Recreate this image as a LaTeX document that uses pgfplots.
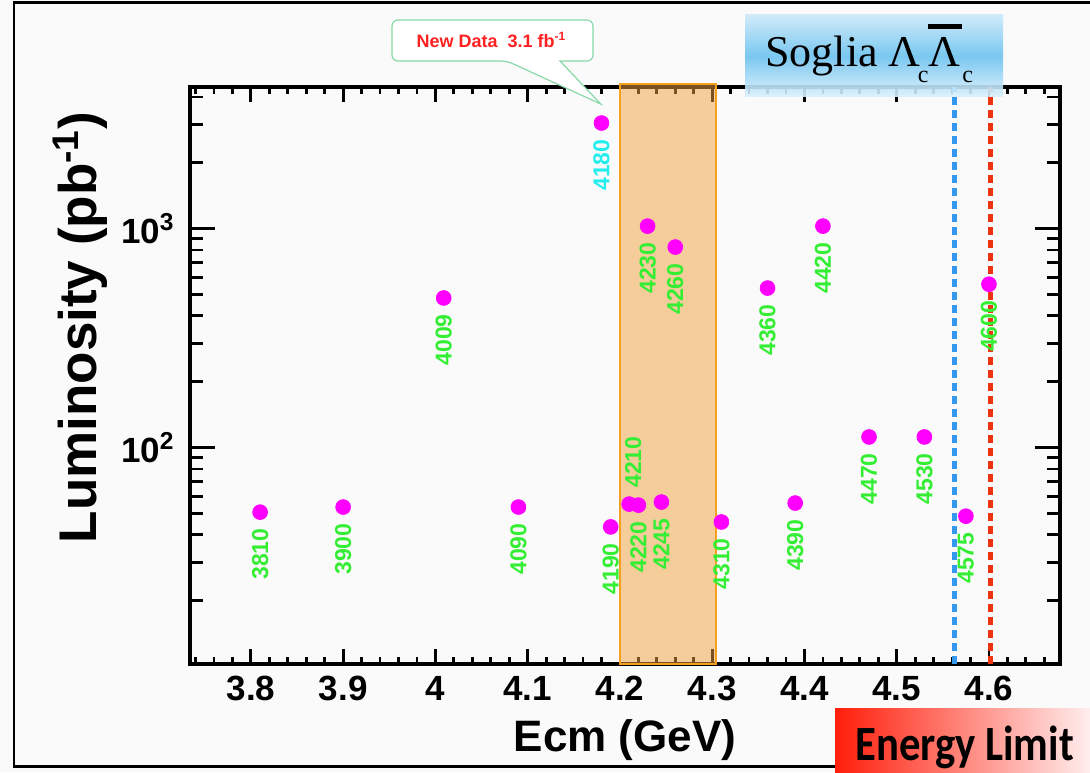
\documentclass[border=0pt]{standalone}
\usepackage{pgfplots}
\pgfplotsset{compat=1.18}
\usepackage{pgfplotstable}
\usepackage{fontspec}
\setmainfont{Liberation Sans}
\newfontfamily\seriff{Liberation Serif}
\newfontfamily\carl{Carlito}
\definecolor{mag}{HTML}{FF00FF}
\definecolor{lgreen}{HTML}{33EE33}
\definecolor{lcyan}{HTML}{22EEEE}
\definecolor{boxorange}{HTML}{F2A23C}
\definecolor{boxedge}{HTML}{F5A020}
\definecolor{dblue}{HTML}{3399EE}
\definecolor{dred}{HTML}{EE3311}
\definecolor{callg}{HTML}{88D8A8}
\definecolor{bg}{HTML}{FAFAFA}
\definecolor{sgtop}{HTML}{CDEAFA}
\definecolor{sgmid}{HTML}{6CC2F0}
\definecolor{sgbot}{HTML}{DDF1FC}
\definecolor{elleft}{HTML}{FF1E0A}
\definecolor{elright}{HTML}{FFEEEE}
\definecolor{callred}{HTML}{FF2020}

\pgfplotstableread{
x y lab
3.81 50.8 3810
3.90 53.6 3900
4.009 483 4009
4.09 53.6 4090
4.19 43.5 4190
4.22 54.7 4220
4.23 1028 4230
4.245 56.5 4245
4.26 825 4260
4.31 45.8 4310
4.36 536 4360
4.39 55.9 4390
4.42 1028 4420
4.47 112 4470
4.53 112 4530
4.575 48.7 4575
4.60 558 4600
}\below
\pgfplotstableread{
x y lab
4.18 3040 4180
}\cyanpt
\pgfplotstableread{
x y lab
4.21 55.3 4210
}\abovept

\begin{document}
\begin{tikzpicture}[x=1pt,y=1pt]
\fill[bg] (0,0) rectangle (545,386);
\useasboundingbox (0,0) rectangle (545,386);
\draw[line width=1.3pt] (548,384.6) -- (7,384.6) -- (7,2.7) -- (548,2.7);
\begin{axis}[
  at={(95pt,54pt)}, anchor=south west,
  scale only axis, width=435pt, height=288.5pt,
  xmin=3.734, xmax=4.677,
  ymode=log, ymin=10.29, ymax=4440,
  axis line style={line width=1.8pt},
  xtick={3.8,3.9,4.0,4.1,4.2,4.3,4.4,4.5,4.6},
  xticklabels={3.8,3.9,4,4.1,4.2,4.3,4.4,4.5,4.6},
  minor xtick={3.74,3.76,...,4.67},
  ytick={100,1000},
  yticklabels={10\textsuperscript{2},10\textsuperscript{3}},
  minor ytick={20,30,40,50,60,70,80,90,200,300,400,500,600,700,800,900,2000,3000,4000},
  tick align=inside, xtick pos=both, ytick pos=both,
  major tick length=7.5pt, minor tick length=3.7pt,
  major y tick style={/pgfplots/major tick length=12.5pt},
  minor y tick style={/pgfplots/minor tick length=6.5pt},
  tick style={line width=1.4pt, black},
  tick label style={font=\bfseries\fontsize{17.5}{20}\selectfont},
  xticklabel style={inner sep=0pt, yshift=-6pt},
  yticklabel style={inner sep=0pt, xshift=-7.5pt},
  xlabel={Ecm (GeV)},
  ylabel={Luminosity (pb\textsuperscript{-1})},
  xlabel style={font=\bfseries\fontsize{22}{26}\selectfont, at={(axis description cs:0.5,-0.1525)}, anchor=base},
  ylabel style={font=\bfseries\fontsize{26.5}{30}\selectfont, at={(axis description cs:-0.1264,0.583)}, anchor=center},
  clip=false,
]
\addplot[only marks, mark=*, mark size=3.7pt, color=mag,
  point meta=explicit symbolic, nodes near coords,
  every node near coord/.append style={yshift=-8pt, rotate=90, anchor=east, inner sep=0pt, text=lgreen, font=\bfseries\fontsize{11.5}{13}\selectfont}]
  table[x=x, y=y, meta=lab] {\below};
\addplot[only marks, mark=*, mark size=3.7pt, color=mag,
  point meta=explicit symbolic, nodes near coords,
  every node near coord/.append style={yshift=-8pt, rotate=90, anchor=east, inner sep=0pt, text=lcyan, font=\bfseries\fontsize{11.5}{13}\selectfont}]
  table[x=x, y=y, meta=lab] {\cyanpt};
\addplot[only marks, mark=*, mark size=3.7pt, color=mag,
  point meta=explicit symbolic, nodes near coords,
  every node near coord/.append style={yshift=8pt, xshift=2pt, rotate=90, anchor=west, inner sep=0pt, text=lgreen, font=\bfseries\fontsize{11.5}{13}\selectfont}]
  table[x=x, y=y, meta=lab] {\abovept};
\addplot[fill=boxorange, fill opacity=0.5, draw=boxedge, line width=0.8pt]
  coordinates {(4.2,10.29) (4.304,10.29) (4.304,4580) (4.2,4580)} -- cycle;
\addplot[dblue, line width=2.6pt, dash pattern=on 4pt off 2.5pt]
  coordinates {(4.563,10.29) (4.563,4440)};
\addplot[dred, line width=2.6pt, dash pattern=on 4pt off 2.5pt]
  coordinates {(4.602,10.29) (4.602,4440)};
\end{axis}
% Soglia box
\shade[top color=sgtop, bottom color=sgbot, middle color=sgmid, opacity=0.9]
  (372.5,337.5) rectangle (501.5,378.5);
\node[anchor=base west, inner sep=0pt] at (382.5,352.5)
  {\seriff\fontsize{22}{26}\selectfont Soglia Λ\kern-1.5pt\raisebox{-8pt}{\fontsize{12}{14}\selectfont c}\kern0pt\makebox[0pt][l]{\raisebox{19pt}{\rule{17pt}{2.5pt}}}Λ\kern1pt\raisebox{-8pt}{\fontsize{12}{14}\selectfont c}};
% callout
\draw[callg, fill=white, line width=0.6pt, rounded corners=3pt]
  (253.5,355.5) [sharp corners] -- (300.35,334) -- (280,355.5) [rounded corners=3pt] -- (296.5,355.5) -- (296.5,376) -- (196,376) -- (196,355.5) -- cycle;
\node[text=callred, font=\bfseries\fontsize{9}{11}\selectfont, inner sep=0pt] at (245.75,366) {New Data\ \ 3.1 fb\textsuperscript{-1}};
% Energy limit
\shade[left color=elleft, right color=elright] (417.5,0) rectangle (545,32);
\node[anchor=base west, inner sep=0pt, xscale=0.97, yscale=1.12] at (427.5,6)
  {\carl\bfseries\fontsize{22}{26}\selectfont Energy Limit};
\end{tikzpicture}
\end{document}
